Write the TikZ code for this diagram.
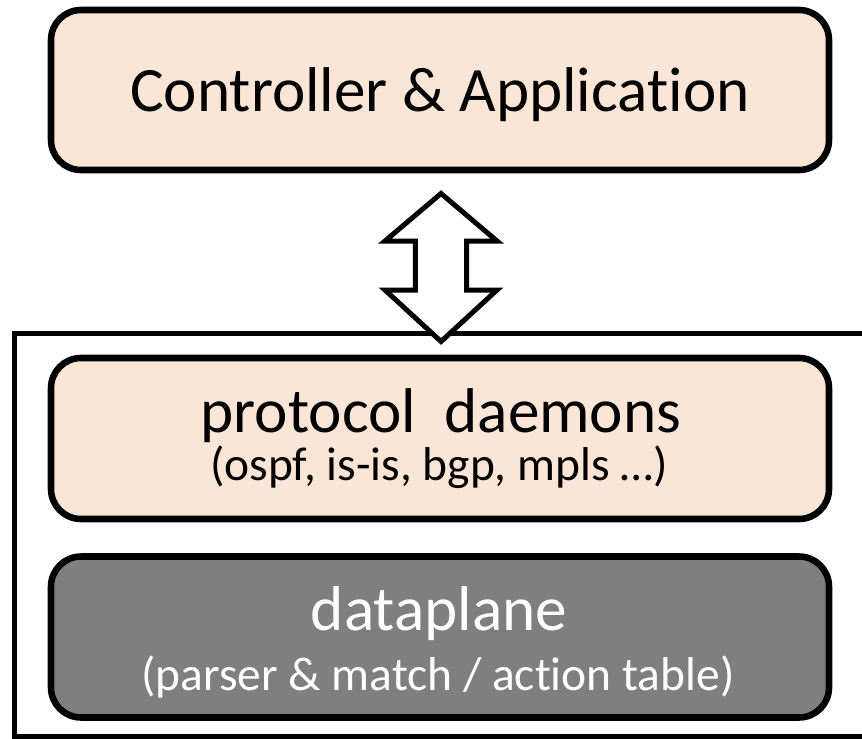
\documentclass[tikz,border=0pt]{standalone}
\usepackage{fontspec}
\setmainfont{Carlito}[Ligatures=NoCommon]
\definecolor{peach}{HTML}{FBE5D6}
\definecolor{planegray}{HTML}{7F7F7F}
\begin{document}
\begin{tikzpicture}[x=0.75pt,y=-0.75pt,
  layerbox/.style={draw=black, line width=4.9pt, rounded corners=22.5pt,
    minimum width=583.5pt, minimum height=120.75pt, inner sep=0pt},
  bigtext/.style={anchor=base, inner sep=0pt, font=\fontsize{47.4}{50}\selectfont},
  smalltext/.style={anchor=base, inner sep=0pt, font=\fontsize{35.6}{40}\selectfont},
  frameline/.style={line width=3.75pt, line join=miter},
  linkarrow/.style={draw=black, fill=white, line width=3.75pt, line join=miter}
]
\useasboundingbox (0,0) rectangle (862,738);

% controller box
\node[layerbox, fill=peach, minimum height=120pt] (ctrl) at (440,90) {};
\node[bigtext] (ctrltext) at (440,112) {Controller \& Application};

% router frame, open on the right
\draw[frameline] (870,333) -- (14,333) -- (14,736) -- (870,736);

% protocol daemons
\node[layerbox, fill=peach] (proto) at (440,438.5) {};
\node[bigtext] (prototext) at (441,432) {protocol~~daemons};
\node[smalltext] (protosub) at (439,480) {(ospf, is-is, bgp, mpls …)};

% dataplane
\node[layerbox, fill=planegray] (data) at (440,637) {};
\node[bigtext, text=white] (datatext) at (439,630) {dataplane};
\node[smalltext, text=white] (datasub) at (438,690) {(parser \& match / action table)};

% two-way link between controller and router
\coordinate (tipU) at (441,193.5);
\coordinate (tipD) at (441,341.5);
\draw[linkarrow] (tipU) -- (497,241) -- (466.7,241) -- (466.7,290) -- (497,290)
  -- (tipD) -- (385,290) -- (415.3,290) -- (415.3,241) -- (385,241) -- cycle;
\end{tikzpicture}
\end{document}
